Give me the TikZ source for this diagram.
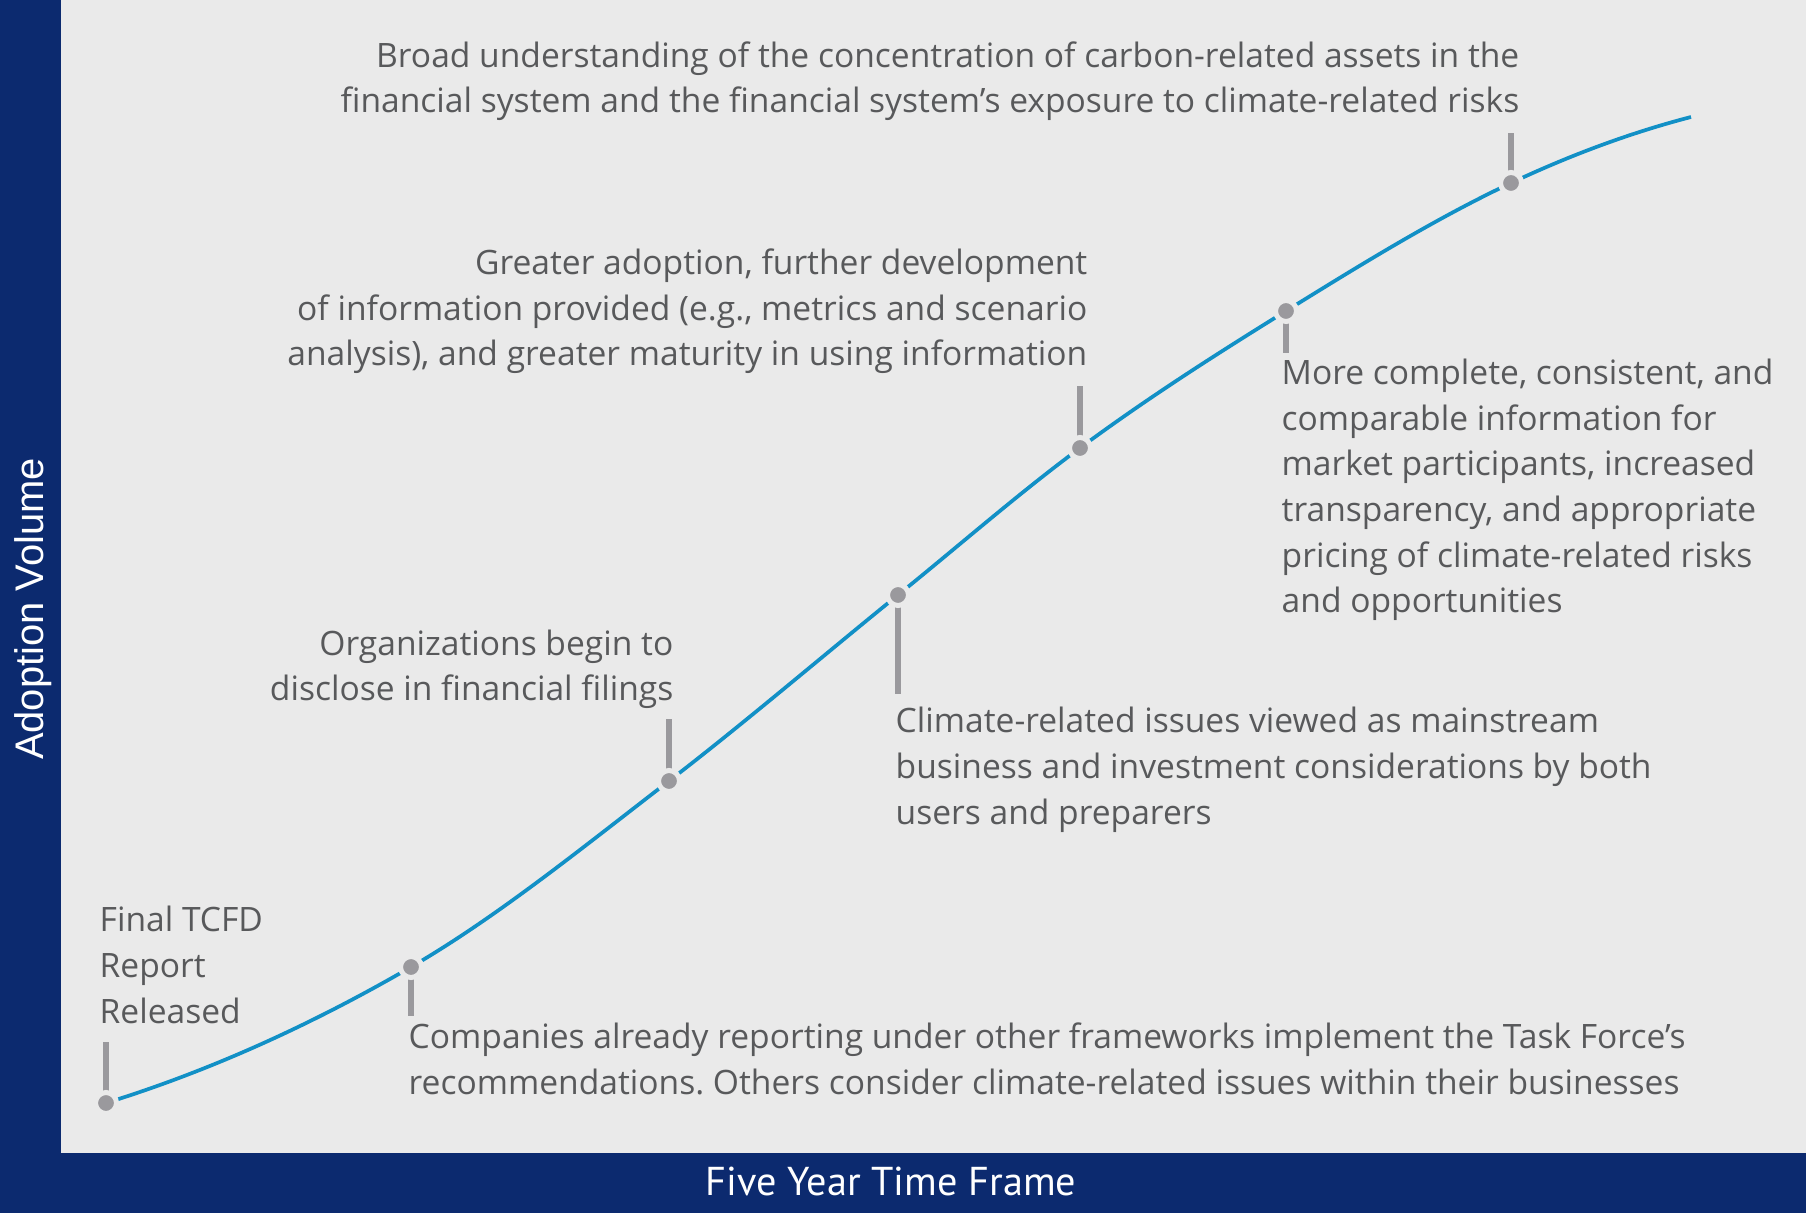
\documentclass[tikz,border=0pt]{standalone}
\usepackage{fontspec}
\setmainfont{Open Sans}
\newfontfamily\ptsans{PT Sans}
\newfontfamily\libsans{Liberation Sans}
\definecolor{navy}{HTML}{0C2A6F}
\definecolor{bgc}{HTML}{EAEAEA}
\definecolor{curvec}{HTML}{1290C6}
\definecolor{markc}{HTML}{9A999D}
\definecolor{txtc}{HTML}{58595B}
\frenchspacing
\begin{document}
\begin{tikzpicture}[x=0.01cm,y=-0.01cm,
  label/.style={inner sep=0pt, text=txtc, font=\fontsize{9.55pt}{13pt}\selectfont\frenchspacing},
  tickline/.style={draw=markc, line width=0.06cm},
  curveline/.style={draw=curvec, line width=0.037cm},
  dotmark/.style={circle, fill=markc, draw=bgc, line width=0.05cm, minimum size=0.21cm, inner sep=0pt}]
\useasboundingbox (0,0) rectangle (1806,1213);
\fill[bgc] (0,0) rectangle (1806,1213);
\fill[navy] (0,0) rectangle (61,1213);
\fill[navy] (0,1153) rectangle (1806,1213);
% points on the curve
\coordinate (d1) at (106,1103);
\coordinate (d2) at (411,967);
\coordinate (d3) at (669,781);
\coordinate (d4) at (898,595);
\coordinate (d5) at (1080,448);
\coordinate (d6) at (1286,311);
\coordinate (d7) at (1511,183);
\coordinate (e) at (1691,117);
% tick ends
\coordinate (t1) at (106,1042);
\coordinate (t2) at (411,1016);
\coordinate (t3) at (669,719);
\coordinate (t4) at (898,694);
\coordinate (t5) at (1080,386);
\coordinate (t6) at (1286,353);
\coordinate (t7) at (1511,133);
\foreach \i in {1,...,7} { \draw[tickline] (d\i) -- (t\i); }
\draw[curveline] (d1) .. controls (207.7,1071.5) and (309.3,1026.0) .. (d2)
  .. controls (497,917.1) and (583,847.2) .. (d3)
  .. controls (745.3,722.2) and (821.7,656.8) .. (d4)
  .. controls (958.7,545.9) and (1019.3,492.9) .. (d5)
  .. controls (1148.7,397.2) and (1217.3,353.6) .. (d6)
  .. controls (1361,264.5) and (1436,218.3) .. (d7)
  .. controls (1571,154.8) and (1631,132.6) .. (e);
\foreach \i in {1,...,7} { \node[dotmark] (m\i) at (d\i) {}; }
% labels (anchor = baseline of last line)
\node[label, anchor=base east, align=right] (la) at (1520,113) {Broad understanding of the concentration of carbon-related assets in the\\financial system and the financial system’s exposure to climate-related risks};
\node[label, anchor=base east, align=right] (lb) at (1088,366) {Greater adoption, further development\\of information provided (e.g., metrics and scenario\\analysis), and greater maturity in using information};
\node[label, anchor=base west, align=left] (lc) at (1281,613) {More complete, consistent, and\\comparable information for\\market participants, increased\\transparency, and appropriate\\pricing of climate-related risks\\and opportunities};
\node[label, anchor=base east, align=right] (ld) at (674,701) {Organizations begin to\\disclose in financial filings};
\node[label, anchor=base west, align=left] (le) at (895,824) {Climate-related issues viewed as mainstream\\business and investment considerations by both\\users and preparers};
\node[label, anchor=base west, align=left] (lf) at (99,1023) {Final TCFD\\Report\\Released};
\node[label, anchor=base west, align=left] (lg) at (408,1094) {Companies already reporting under other frameworks implement the Task Force’s\\recommendations. Others consider climate-related issues within their businesses};
% axis titles
\node[inner sep=0pt, text=white, anchor=base, font=\ptsans\fontsize{11.45pt}{13pt}\selectfont] (xt) at (891,1195) {Five Year Time Frame};
\node[inner sep=0pt, text=white, anchor=base, rotate=90, font=\libsans\fontsize{11.35pt}{13pt}\selectfont] (yt) at (43,609) {Adoption Volume};
\end{tikzpicture}
\end{document}
